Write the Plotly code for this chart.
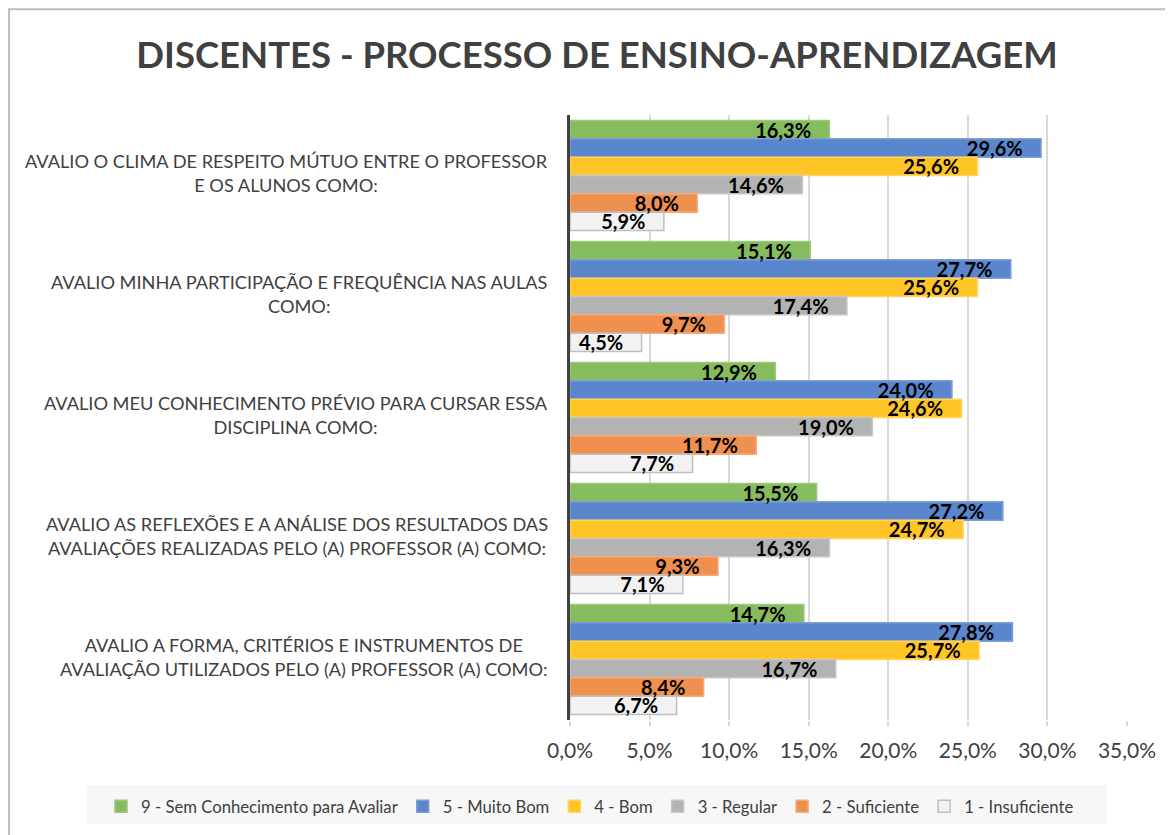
import plotly.graph_objects as go

categories = [
    "AVALIO O CLIMA DE RESPEITO MÚTUO ENTRE O PROFESSOR<br>E OS ALUNOS COMO:",
    "AVALIO MINHA PARTICIPAÇÃO E FREQUÊNCIA NAS AULAS<br>COMO:",
    "AVALIO MEU CONHECIMENTO PRÉVIO PARA CURSAR ESSA<br>DISCIPLINA COMO:",
    "AVALIO AS REFLEXÕES E A ANÁLISE DOS RESULTADOS DAS<br>AVALIAÇÕES REALIZADAS PELO (A) PROFESSOR (A) COMO:",
    "AVALIO A FORMA, CRITÉRIOS E INSTRUMENTOS DE<br>AVALIAÇÃO UTILIZADOS PELO (A) PROFESSOR (A) COMO:",
]
cat_ids = ["C1", "C2", "C3", "C4", "C5"]

series_names = [
    "9 - Sem Conhecimento para Avaliar",
    "5 - Muito Bom",
    "4 - Bom",
    "3 - Regular",
    "2 - Suficiente",
    "1 - Insuficiente",
]
sem_conhecimento = [0.163, 0.151, 0.129, 0.155, 0.147]
muito_bom = [0.296, 0.277, 0.240, 0.272, 0.278]
bom = [0.256, 0.256, 0.246, 0.247, 0.257]
regular = [0.146, 0.174, 0.190, 0.163, 0.167]
suficiente = [0.080, 0.097, 0.117, 0.093, 0.084]
insuficiente = [0.059, 0.045, 0.077, 0.071, 0.067]
series_values = [sem_conhecimento, muito_bom, bom, regular, suficiente, insuficiente]

fill_colors = ["#86BB5E", "#5A86CD", "#FFC526", "#B3B3B3", "#F0904F", "#F2F2F2"]
line_colors = ["#9CC97D", "#7D9FD8", "#FFD45F", "#C6C6C6", "#F4AC7C", "#BFBFBF"]

tick_vals = [0, 0.05, 0.10, 0.15, 0.20, 0.25, 0.30, 0.35]

FONT = "Lato"
W, H = 1165, 827
ML, MR, MT, MB = 562, 46, 107, 114
PW = W - ML - MR
PH = H - MT - MB


def px_x(x):  # figure pixel -> paper x
    return (x - ML) / PW


def px_y(y):  # figure pixel (from top) -> paper y
    return (PH + MT - y) / PH


fig = go.Figure()
# coloured bars
for i, (name, vals, fc, lc) in enumerate(zip(series_names, series_values, fill_colors, line_colors)):
    fig.add_trace(go.Bar(
        y=cat_ids, x=vals, name=name, orientation="h", offsetgroup=str(i),
        marker=dict(color=fc, line=dict(color=lc, width=1.5)),
        hoverinfo="skip",
    ))
# data labels drawn on top of every bar (same slots, transparent)
for i, (name, vals) in enumerate(zip(series_names, series_values)):
    fig.add_trace(go.Bar(
        y=cat_ids, x=vals, name=name, orientation="h", offsetgroup=str(i),
        marker=dict(color="rgba(0,0,0,0)", line=dict(width=0)),
        texttemplate="<b>%{x:.1%}</b>\u00a0\u00a0\u00a0",
        textposition="inside", insidetextanchor="end", textangle=0,
        constraintext="none",
        insidetextfont=dict(family=FONT, size=20, color="#000000"),
        hoverinfo="skip", showlegend=False,
    ))

for cid, label in zip(cat_ids, categories):
    fig.add_annotation(
        x=px_x(ML - 20), xref="paper", y=cid, yref="y", text=label,
        xanchor="right", yanchor="middle", align="center", showarrow=False,
        font=dict(family=FONT, size=18.2, color="#404040"), yshift=3,
    )

# outer chart border (left/top edges visible)
fig.add_shape(type="rect", xref="paper", yref="paper",
              x0=px_x(1), x1=px_x(W + 30), y0=px_y(H + 30), y1=px_y(1),
              line=dict(color="#BFBFBF", width=2), fillcolor="rgba(0,0,0,0)", layer="below")
# legend background box
fig.add_shape(type="rect", xref="paper", yref="paper",
              x0=px_x(79), x1=px_x(1099), y0=px_y(817), y1=px_y(778),
              line=dict(width=0), fillcolor="#F7F7F7", layer="below")

fig.update_layout(
    width=W, height=H,
    margin=dict(l=ML, r=MR, t=MT, b=MB),
    paper_bgcolor="white", plot_bgcolor="white",
    separators=",.",
    barmode="group", bargap=0.09, bargroupgap=0,
    uniformtext=dict(minsize=20, mode="show"),
    title=dict(text="<b>DISCENTES - PROCESSO DE ENSINO-APRENDIZAGEM</b>",
               x=(597 - 8) / W, xanchor="center", y=1 - 47 / H, yanchor="middle",
               font=dict(family=FONT, size=36.5, color="#404040")),
    xaxis=dict(range=[0, 0.35], tickvals=tick_vals, tickformat=".1%",
               showgrid=True, gridcolor="#D9D9D9", gridwidth=2,
               zeroline=False, showline=False,
               ticks="outside", ticklen=5, tickcolor="#D9D9D9", tickwidth=2,
               ticklabelstandoff=7,
               tickfont=dict(family=FONT, size=21, color="#404040")),
    yaxis=dict(categoryorder="array", categoryarray=cat_ids, autorange="reversed",
               showticklabels=False, showgrid=False, zeroline=False,
               showline=True, linecolor="#404040", linewidth=3),
    legend=dict(orientation="h", xref="paper", yref="paper",
                x=px_x(93), xanchor="left", y=px_y(781), yanchor="top",
                bgcolor="rgba(0,0,0,0)", font=dict(family=FONT, size=16.7, color="#404040"),
                traceorder="normal", itemwidth=30),
    showlegend=True,
)

fig.write_html("out.html")
